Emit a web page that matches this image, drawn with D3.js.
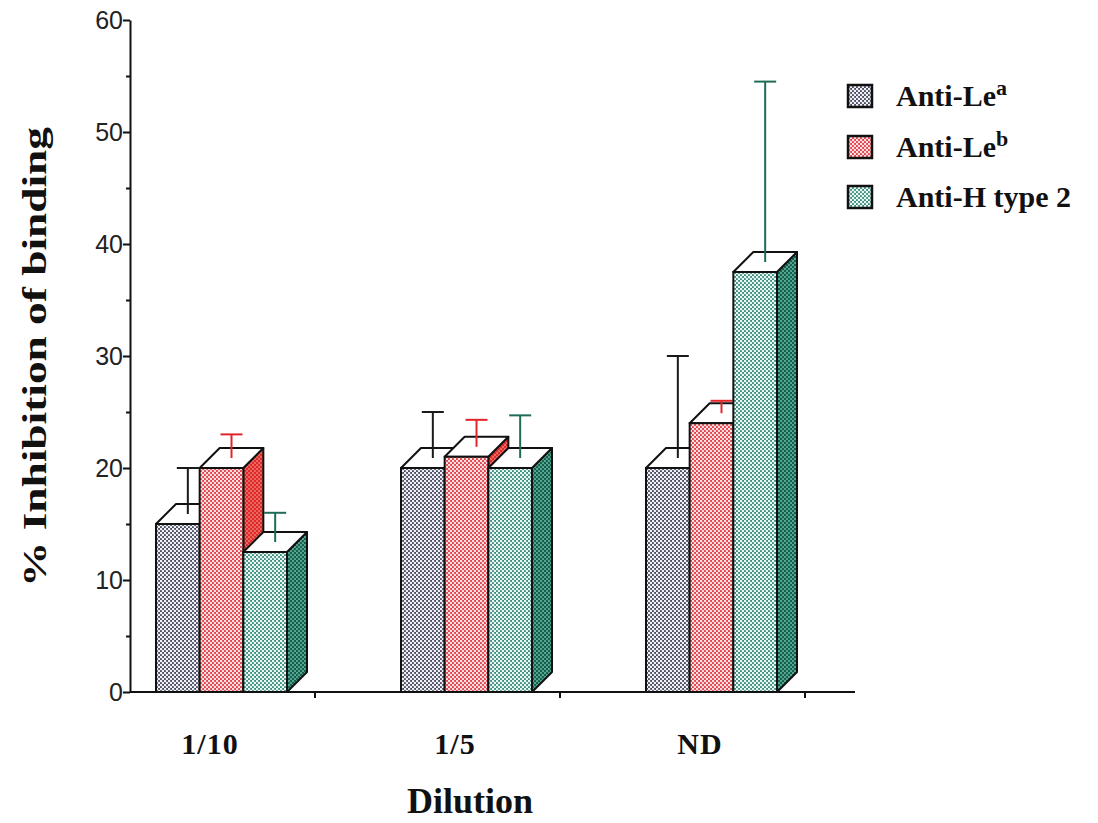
<!DOCTYPE html>
<html>
<head>
<meta charset="utf-8">
<script src="https://cdn.jsdelivr.net/npm/d3@7"></script>
<style>
  html, body { margin: 0; padding: 0; background: #ffffff; }
  svg { display: block; }
</style>
</head>
<body>
<svg id="chart" width="1098" height="823"></svg>
<script>
// Dilution categories on the x axis
const dilutions = ["1/10", "1/5", "ND"];

// Series names (legend label + superscript)
const seriesLabels = ["Anti-Le", "Anti-Le", "Anti-H type 2"];
const seriesSups = ["a", "b", ""];

// Mean % inhibition per dilution
const antiLea = [15, 20, 20];
const antiLeb = [20, 21, 24];
const antiH2 = [12.5, 20, 37.5];

// Upper error (SD) per dilution
const antiLeaErr = [5, 5, 10];
const antiLebErr = [3, 3.3, 2];
const antiH2Err = [3.5, 4.7, 17];

// Y axis ticks
const yMajorTicks = [0, 10, 20, 30, 40, 50, 60];
const yMinorTicks = [5, 15, 25, 35, 45, 55];

const series = [
  { values: antiLea, errs: antiLeaErr },
  { values: antiLeb, errs: antiLebErr },
  { values: antiH2, errs: antiH2Err }
];

const svg = d3.select("#chart");
const defs = svg.append("defs");

// Halftone dot patterns for the bar faces
const patternSpecs = [
  { id: "pat-gray", base: "#4a4a5e", dot: "#eef0f5", r: 1.3 },
  { id: "pat-red", base: "#e2424e", dot: "#fde2e2", r: 1.25 },
  { id: "pat-teal", base: "#3a8c7c", dot: "#e8f7f3", r: 1.3 },
  { id: "pat-red-side", base: "#dc2a2a", dot: "#f27a72", r: 1.0 },
  { id: "pat-teal-side", base: "#14604e", dot: "#5fae98", r: 1.05 },
  { id: "pat-gray-side", base: "#2e2e3c", dot: "#9aa0ac", r: 1.0 }
];
patternSpecs.forEach(p => {
  const pat = defs.append("pattern")
    .attr("id", p.id)
    .attr("patternUnits", "userSpaceOnUse")
    .attr("width", 4).attr("height", 4);
  pat.append("rect").attr("width", 4).attr("height", 4).attr("fill", p.base);
  pat.append("circle").attr("cx", 1).attr("cy", 1).attr("r", p.r).attr("fill", p.dot);
  pat.append("circle").attr("cx", 3).attr("cy", 3).attr("r", p.r).attr("fill", p.dot);
});

const frontFills = ["url(#pat-gray)", "url(#pat-red)", "url(#pat-teal)"];
const sideFills = ["url(#pat-gray-side)", "url(#pat-red-side)", "url(#pat-teal-side)"];
const errColors = ["#1a1a1a", "#e3242b", "#1f6b58"];

// Scales
const y = d3.scaleLinear().domain([0, 60]).range([692, 20]);
const x = d3.scaleBand().domain(dilutions).range([70, 805]).padding(0);
const xs = d3.scaleBand().domain(d3.range(series.length)).range([86, 217]).padding(0);

const depthX = 20, depthY = 20;
const axisX = 130;

// Bars: painted back-to-front so the 3D faces overlap correctly
const barsG = svg.append("g");
dilutions.forEach((d, i) => {
  series.forEach((s, k) => {
    const x0 = x(d) + xs(k);
    const w = xs.bandwidth();
    const yTop = y(s.values[i]);
    const yBase = y(0);
    const g = barsG.append("g");
    // side face
    g.append("path")
      .attr("d", `M${x0 + w},${yTop} L${x0 + w + depthX},${yTop - depthY} L${x0 + w + depthX},${yBase - depthY} L${x0 + w},${yBase} Z`)
      .attr("fill", sideFills[k])
      .attr("stroke", "#111").attr("stroke-width", 2).attr("stroke-linejoin", "round");
    // top face
    g.append("path")
      .attr("d", `M${x0},${yTop} L${x0 + depthX},${yTop - depthY} L${x0 + w + depthX},${yTop - depthY} L${x0 + w},${yTop} Z`)
      .attr("fill", "#ffffff")
      .attr("stroke", "#111").attr("stroke-width", 2).attr("stroke-linejoin", "round");
    // front face
    g.append("rect")
      .attr("x", x0).attr("y", yTop)
      .attr("width", w).attr("height", yBase - yTop)
      .attr("fill", frontFills[k])
      .attr("stroke", "#111").attr("stroke-width", 2);
    // error bar rising from the centre of the top face
    const ex = x0 + w / 2 + depthX / 2;
    const eyStart = yTop - depthY / 2;
    const eyEnd = y(s.values[i] + s.errs[i]);
    g.append("line")
      .attr("x1", ex).attr("x2", ex)
      .attr("y1", eyStart).attr("y2", eyEnd)
      .attr("stroke", errColors[k]).attr("stroke-width", 2);
    g.append("line")
      .attr("x1", ex - 11).attr("x2", ex + 11)
      .attr("y1", eyEnd).attr("y2", eyEnd)
      .attr("stroke", errColors[k]).attr("stroke-width", 2);
  });
});

// X axis line and category boundary ticks
const xAxisG = svg.append("g");
xAxisG.append("line")
  .attr("x1", axisX).attr("x2", 855)
  .attr("y1", y(0)).attr("y2", y(0))
  .attr("stroke", "#111").attr("stroke-width", 2);
xAxisG.selectAll("line.tick")
  .data(dilutions)
  .join("line")
  .attr("class", "tick")
  .attr("x1", d => x(d) + x.bandwidth()).attr("x2", d => x(d) + x.bandwidth())
  .attr("y1", y(0)).attr("y2", y(0) + 6)
  .attr("stroke", "#111").attr("stroke-width", 2);
xAxisG.selectAll("text")
  .data(dilutions)
  .join("text")
  .attr("x", d => x(d) + 140)
  .attr("y", 754)
  .attr("text-anchor", "middle")
  .attr("font-family", "'Liberation Serif', 'Times New Roman', serif")
  .attr("font-weight", "bold")
  .attr("font-size", 30)
  .attr("letter-spacing", 1)
  .attr("fill", "#111")
  .text(d => d);

// Y axis
const yAxis = d3.axisLeft(y).tickValues(yMajorTicks).tickSize(7).tickSizeOuter(0).tickPadding(0);
const yAxisG = svg.append("g")
  .attr("transform", `translate(${axisX},0)`)
  .call(yAxis);
yAxisG.select(".domain").attr("stroke", "#111").attr("stroke-width", 2);
yAxisG.selectAll(".tick line").attr("stroke", "#111").attr("stroke-width", 2);
yAxisG.selectAll(".tick text")
  .attr("font-family", "'Liberation Sans', Arial, sans-serif")
  .attr("font-size", 25)
  .attr("fill", "#222");

const yMinor = d3.axisLeft(y).tickValues(yMinorTicks).tickSize(4).tickFormat("");
const yMinorG = svg.append("g")
  .attr("transform", `translate(${axisX},0)`)
  .call(yMinor);
yMinorG.select(".domain").remove();
yMinorG.selectAll(".tick line").attr("stroke", "#111").attr("stroke-width", 2);

// Axis titles
svg.append("text")
  .attr("transform", `translate(46,357) rotate(-90)`)
  .attr("text-anchor", "middle")
  .attr("font-family", "'Liberation Serif', 'Times New Roman', serif")
  .attr("font-weight", "bold")
  .attr("font-size", 33)
  .attr("textLength", 460)
  .attr("lengthAdjust", "spacingAndGlyphs")
  .attr("fill", "#111")
  .text("% Inhibition of binding");

svg.append("text")
  .attr("x", 470).attr("y", 813)
  .attr("text-anchor", "middle")
  .attr("font-family", "'Liberation Serif', 'Times New Roman', serif")
  .attr("font-weight", "bold")
  .attr("font-size", 36)
  .attr("fill", "#111")
  .text("Dilution");

// Legend
const legendRowY = [96, 147, 197];
const legend = svg.append("g");
seriesLabels.forEach((label, k) => {
  const row = legend.append("g").attr("transform", `translate(848,${legendRowY[k]})`);
  row.append("rect")
    .attr("x", 0).attr("y", -11)
    .attr("width", 24).attr("height", 22)
    .attr("fill", frontFills[k])
    .attr("stroke", "#111").attr("stroke-width", 2.5);
  const t = row.append("text")
    .attr("x", 48).attr("y", 10)
    .attr("font-family", "'Liberation Serif', 'Times New Roman', serif")
    .attr("font-weight", "bold")
    .attr("font-size", 30)
    .attr("fill", "#111");
  t.append("tspan").text(label);
  if (seriesSups[k]) {
    t.append("tspan")
      .attr("dy", -11)
      .attr("font-size", 22)
      .text(seriesSups[k]);
  }
});
</script>
</body>
</html>
